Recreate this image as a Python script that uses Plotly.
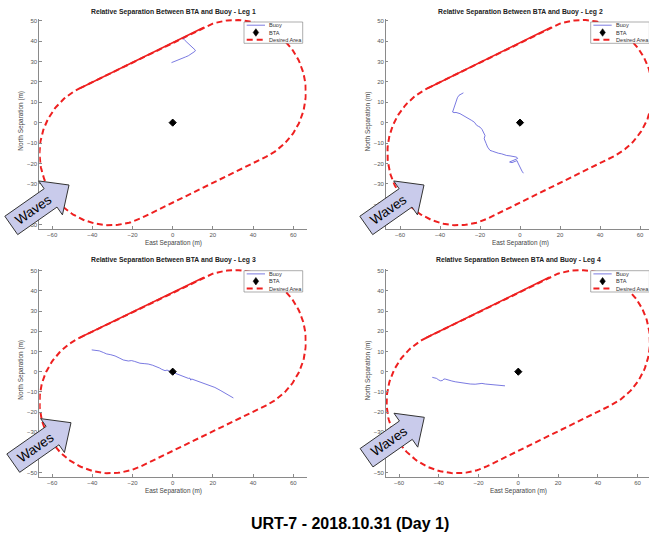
import numpy as np
import plotly.graph_objects as go

W, H = 649, 537
FONT = "Liberation Sans, Arial, Helvetica, sans-serif"

# ---------------- data ----------------
x_ticks = [-60, -40, -20, 0, 20, 40, 60]
y_ticks = [-50, -40, -30, -20, -10, 0, 10, 20, 30, 40, 50]

bta_east = [0.0]
bta_north = [0.0]

leg1_east = [-0.6, 0.8, 2.2, 3.6, 5.0, 6.4, 7.8, 9.0, 10.2, 11.0, 11.3, 10.6, 9.7,
             8.8, 8.0, 7.3, 6.8, 6.2, 5.7, 5.4, 5.9]
leg1_north = [29.4, 29.9, 30.4, 31.0, 31.6, 32.2, 32.8, 33.5, 34.2, 34.9, 35.5, 36.1, 36.8,
              37.6, 38.3, 39.0, 39.6, 40.2, 40.7, 41.1, 41.5]

leg2_east = [-28.3, -29.2, -30.5, -31.3, -31.7, -32.2, -32.5, -33.2, -33.7, -33.0, -32.0,
             -30.0, -28.6, -27.5, -26.0, -24.2, -22.8, -21.7, -20.8, -20.0, -19.0, -18.3,
             -17.6, -17.5, -17.9, -17.6, -16.9, -16.2, -15.0, -13.8, -12.5, -10.8, -9.2,
             -7.8, -6.7, -5.0, -3.3, -1.7, -1.2, -2.5, -4.2, -5.2, -4.0, -3.3, -2.0, -1.5,
             -1.0, -0.5, 0.3, 1.0, 1.7]
leg2_north = [14.6, 14.2, 13.4, 12.2, 11.0, 9.6, 8.5, 7.0, 5.2, 4.9, 5.0,
              4.4, 3.7, 3.1, 2.3, 1.1, 0.2, -1.3, -1.8, -2.2, -3.3, -4.6,
              -5.5, -6.3, -7.9, -9.0, -10.3, -12.0, -13.6, -14.0, -14.5, -15.0, -15.3,
              -15.8, -16.1, -16.3, -16.6, -16.9, -17.6, -18.2, -18.6, -19.3, -19.6, -19.4,
              -18.8, -18.6, -19.8, -21.0, -22.5, -23.8, -24.8]

leg3_east = [-40.3, -38.5, -36.5, -34.5, -32.9, -30.8, -28.7, -26.6, -24.6, -22.1, -20.5,
             -19.0, -16.3, -14.2, -12.2, -10.0, -8.0, -6.5, -5.5, -4.5, -3.8, -2.8, -2.0,
             -1.0, 0.0, 1.8, 3.6, 5.6, 7.8, 8.6, 9.0, 9.4, 11.5, 13.6, 16.0, 18.6, 21.0,
             23.6, 26.8, 30.2]
leg3_north = [10.8, 10.7, 10.3, 9.5, 8.8, 8.4, 7.8, 6.8, 5.8, 5.3, 5.5,
              5.1, 4.2, 4.0, 3.8, 3.2, 2.5, 1.8, 1.2, 0.9, 0.5, 0.8, 0.6,
              0.0, -0.3, -1.0, -1.7, -2.5, -3.3, -3.2, -4.2, -3.6, -4.3, -5.0, -5.8, -6.7, -7.8,
              -9.2, -11.0, -13.0]

leg4_east = [-43.3, -42.2, -41.2, -40.2, -39.2, -38.3, -37.4, -36.6, -35.3, -33.5, -31.7,
             -29.2, -26.7, -24.2, -21.7, -20.0, -18.3, -16.6, -15.0, -13.3, -11.7, -10.4,
             -9.2, -8.0, -6.7]
leg4_north = [-2.8, -3.0, -3.3, -4.0, -4.5, -4.4, -3.6, -3.7, -4.2, -4.6, -5.0,
              -5.4, -5.8, -6.1, -6.2, -6.0, -5.8, -6.1, -6.3, -6.3, -6.5, -6.6,
              -6.7, -6.9, -7.0]

# Desired area: stadium (two half circles joined by tangent lines)
area_center_east = [-31.0, 31.0]
area_center_north = [-15.0, 15.0]
area_radius = 35.3

suptitle = "URT-7 - 2018.10.31 (Day 1)"
title_fmt = "Relative Separation Between BTA and Buoy - {}"
legend_names = ["Buoy", "BTA", "Desired Area"]

# ---------------- styling / layout ----------------
RED = "#ee2020"
BLUE = "rgba(80,80,215,0.85)"
ARROW_FILL = "#c9cbeb"


def stadium():
    c1 = np.array([area_center_east[0], area_center_north[0]])
    c2 = np.array([area_center_east[1], area_center_north[1]])
    d = c2 - c1
    u = d / np.linalg.norm(d)
    n = np.array([-u[1], u[0]])
    phi = np.arctan2(n[1], n[0])
    R = area_radius
    a1 = np.linspace(phi, phi - np.pi, 120)
    arc2 = c2[None, :] + R * np.stack([np.cos(a1), np.sin(a1)], 1)
    a2 = np.linspace(phi - np.pi, phi - 2 * np.pi, 120)
    arc1 = c1[None, :] + R * np.stack([np.cos(a2), np.sin(a2)], 1)
    start = c1 + R * n
    pts = np.vstack([start[None, :], arc2, arc1])
    top = np.vstack([c1 + R * n, c2 + R * n])
    return pts, top


area_pts, area_top = stadium()


def px(x):
    return x / W


def py(y):
    return 1 - y / H


panels = [
    dict(leg="Leg 1", east=leg1_east, north=leg1_north,
         xdom=(39.3, 306.7), xr=(-66.4, 66.7), ydom=(19.0, 228.5), yr=(-51.9, 50.8),
         legend=(244.0, 22.0), tip=(69.0, 185.0), title=(173.0, 11.7),
         xlab=(173.0, 242.7), ylab=(20.7, 121.0)),
    dict(leg="Leg 2", east=leg2_east, north=leg2_north,
         xdom=(386.0, 649.0), xr=(-67.0, 64.5), ydom=(19.0, 228.5), yr=(-51.9, 50.8),
         legend=(590.7, 22.0), tip=(424.0, 185.0), title=(520.0, 11.7),
         xlab=(520.0, 242.7), ylab=(368.3, 121.0)),
    dict(leg="Leg 3", east=leg3_east, north=leg3_north,
         xdom=(39.3, 306.7), xr=(-66.4, 66.7), ydom=(268.5, 476.7), yr=(-52.0, 51.1),
         legend=(244.0, 270.7), tip=(71.0, 422.7), title=(173.0, 260.0),
         xlab=(173.0, 490.7), ylab=(20.7, 370.0)),
    dict(leg="Leg 4", east=leg4_east, north=leg4_north,
         xdom=(386.0, 649.0), xr=(-66.6, 65.8), ydom=(268.5, 476.7), yr=(-52.0, 51.1),
         legend=(590.7, 270.7), tip=(424.3, 417.3), title=(518.3, 260.0),
         xlab=(518.3, 490.7), ylab=(368.3, 370.0)),
]

fig = go.Figure()
shapes = []
annotations = []
layout_axes = {}

for i, p in enumerate(panels, start=1):
    xa = "x" if i == 1 else f"x{i}"
    ya = "y" if i == 1 else f"y{i}"
    # traces
    fig.add_trace(go.Scatter(x=area_pts[:, 0], y=area_pts[:, 1], mode="lines",
                             line=dict(color=RED, width=2, dash="6px,3.5px"),
                             name=legend_names[2], xaxis=xa, yaxis=ya, showlegend=False,
                             hoverinfo="skip"))
    fig.add_trace(go.Scatter(x=area_top[:, 0], y=area_top[:, 1], mode="lines",
                             line=dict(color=RED, width=1.6),
                             name=legend_names[2], xaxis=xa, yaxis=ya, showlegend=False,
                             hoverinfo="skip"))
    fig.add_trace(go.Scatter(x=p["east"], y=p["north"], mode="lines",
                             line=dict(color=BLUE, width=0.9),
                             name=legend_names[0], xaxis=xa, yaxis=ya, showlegend=False))
    fig.add_trace(go.Scatter(x=bta_east, y=bta_north, mode="markers",
                             marker=dict(symbol="diamond", size=5.5, color="black",
                                         line=dict(color="black", width=1)),
                             name=legend_names[1], xaxis=xa, yaxis=ya, showlegend=False))

    axkw = dict(showgrid=False, zeroline=False, showline=True, linecolor="#8a8a8a",
                linewidth=0.8, ticks="inside", ticklen=2.5, tickcolor="#8a8a8a",
                tickwidth=0.8, tickfont=dict(family=FONT, size=6, color="#555"))
    layout_axes["xaxis" if i == 1 else f"xaxis{i}"] = dict(
        domain=[px(p["xdom"][0]), px(p["xdom"][1])], range=list(p["xr"]),
        tickvals=x_ticks, anchor=ya, **axkw)
    layout_axes["yaxis" if i == 1 else f"yaxis{i}"] = dict(
        domain=[py(p["ydom"][1]), py(p["ydom"][0])], range=[p["yr"][0], p["yr"][1]],
        tickvals=y_ticks, anchor=xa, **axkw)

    # titles
    annotations.append(dict(x=px(p["title"][0]), y=py(p["title"][1]), xref="paper", yref="paper",
                            text="<b>" + title_fmt.format(p["leg"]) + "</b>", showarrow=False,
                            xanchor="center", yanchor="middle",
                            font=dict(family=FONT, size=6.8, color="#222")))
    annotations.append(dict(x=px(p["xlab"][0]), y=py(p["xlab"][1]), xref="paper", yref="paper",
                            text="East Separation (m)", showarrow=False,
                            xanchor="center", yanchor="middle",
                            font=dict(family=FONT, size=6.4, color="#444")))
    annotations.append(dict(x=px(p["ylab"][0]), y=py(p["ylab"][1]), xref="paper", yref="paper",
                            text="North Separation (m)", showarrow=False, textangle=-90,
                            xanchor="center", yanchor="middle",
                            font=dict(family=FONT, size=6.4, color="#444")))

    # legend (drawn manually to match compact MATLAB legend)
    bl, bt = p["legend"]
    bw, bh = 58.7, 21.3
    shapes.append(dict(type="rect", xref="paper", yref="paper",
                       x0=px(bl), x1=px(bl + bw), y0=py(bt + bh), y1=py(bt),
                       line=dict(color="#777", width=0.6), fillcolor="white", layer="above"))
    rows = [bt + 3.2, bt + 10.5, bt + 17.8]
    shapes.append(dict(type="line", xref="paper", yref="paper",
                       x0=px(bl + 2.7), x1=px(bl + 21), y0=py(rows[0]), y1=py(rows[0]),
                       line=dict(color=BLUE, width=0.9), layer="above"))
    cx, cy = bl + 11.9, rows[1]
    shapes.append(dict(type="path", xref="paper", yref="paper",
                       path=f"M {px(cx)},{py(cy - 3.8)} L {px(cx + 2.8)},{py(cy)} "
                            f"L {px(cx)},{py(cy + 3.8)} L {px(cx - 2.8)},{py(cy)} Z",
                       fillcolor="black", line=dict(color="black", width=0.5), layer="above"))
    shapes.append(dict(type="line", xref="paper", yref="paper",
                       x0=px(bl + 2.7), x1=px(bl + 21), y0=py(rows[2]), y1=py(rows[2]),
                       line=dict(color=RED, width=2, dash="6px,4px"), layer="above"))
    for r, nm in zip(rows, legend_names):
        annotations.append(dict(x=px(bl + 23.3), y=py(r), xref="paper", yref="paper",
                                text=nm, showarrow=False, xanchor="left", yanchor="middle",
                                font=dict(family=FONT, size=5.6, color="#333")))

    # waves arrow
    tx, ty = p["tip"]
    a = np.deg2rad(35)
    u = np.array([np.cos(a), -np.sin(a)])
    v = np.array([np.sin(a), np.cos(a)])
    T = np.array([tx, ty])
    L, Lh, Hw, Sw = 70.5, 22.5, 20.7, 11.2
    pts = [T, T - Lh * u - Hw * v, T - Lh * u - Sw * v, T - L * u - Sw * v,
           T - L * u + Sw * v, T - Lh * u + Sw * v, T - Lh * u + Hw * v]
    path = "M " + " L ".join(f"{px(q[0]):.5f},{py(q[1]):.5f}" for q in pts) + " Z"
    shapes.append(dict(type="path", xref="paper", yref="paper", path=path,
                       fillcolor=ARROW_FILL, line=dict(color="#333", width=1), layer="above"))
    c = T - 43 * u
    annotations.append(dict(x=px(c[0]), y=py(c[1]), xref="paper", yref="paper",
                            text="Waves", showarrow=False, textangle=-35,
                            xanchor="center", yanchor="middle",
                            font=dict(family=FONT, size=13.5, color="black")))

annotations.append(dict(x=px(350), y=py(523), xref="paper", yref="paper",
                        text="<b>" + suptitle + "</b>", showarrow=False,
                        xanchor="center", yanchor="middle",
                        font=dict(family=FONT, size=16, color="black")))

fig.update_layout(width=W, height=H, margin=dict(l=0, r=0, t=0, b=0),
                  paper_bgcolor="white", plot_bgcolor="white", showlegend=False,
                  shapes=shapes, annotations=annotations, **layout_axes)

fig.write_html("out.html")
